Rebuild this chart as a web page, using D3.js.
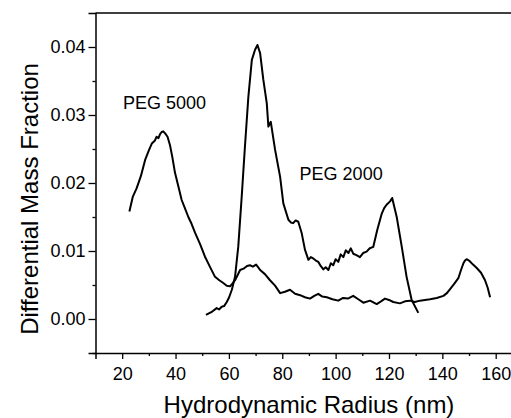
<!DOCTYPE html>
<html>
<head>
<meta charset="utf-8">
<script src="https://cdn.jsdelivr.net/npm/d3@7"></script>
<style>
  html, body { margin: 0; padding: 0; background: #fff; }
  svg { display: block; }
  text { font-family: "Liberation Sans", Arial, sans-serif; fill: #000; }
</style>
</head>
<body>
<svg id="chart" width="511" height="418"></svg>
<script>
// PEG 5000 distribution (radius nm -> differential mass fraction)
const peg5000R = [22.7, 24.0, 25.4, 27.0, 28.6, 30.0, 31.1, 32.2, 32.9, 33.6, 34.2, 34.8, 35.4, 36.1, 37.0, 37.9, 38.8, 39.8, 41.0, 42.3, 43.5, 44.8, 46.0, 47.3, 49.2, 51.0, 53.0, 54.8, 56.4, 57.9, 59.2, 60.4, 61.3, 62.3, 63.2, 64.2, 65.5, 66.8, 67.9, 69.0, 70.2, 71.0, 71.7, 73.5, 75.4, 77.3, 79.2, 81.0, 82.9, 84.8, 86.7, 88.5, 90.4, 92.0, 93.5, 95.0, 96.7, 98.8, 101.0, 102.8, 104.6, 106.6, 108.5, 110.4, 112.9, 115.4, 117.0, 118.5, 120.0, 121.6, 124.1, 126.0, 127.9, 129.7, 131.6, 133.5, 135.4, 137.9, 140.4, 141.7, 142.9, 144.5, 146.0, 147.0, 147.9, 148.5, 149.1, 150.0, 151.5, 152.9, 154.5, 156.0, 157.0, 157.9];
const peg5000F = [0.0158, 0.0180, 0.0192, 0.0210, 0.0234, 0.0248, 0.0258, 0.0262, 0.0268, 0.0266, 0.0272, 0.0275, 0.0276, 0.0273, 0.0268, 0.0256, 0.0238, 0.0215, 0.0196, 0.0175, 0.0163, 0.0150, 0.0140, 0.0127, 0.0110, 0.0092, 0.0076, 0.0062, 0.0057, 0.0053, 0.0049, 0.0048, 0.0052, 0.0057, 0.0064, 0.0072, 0.0074, 0.0078, 0.0079, 0.0077, 0.0080, 0.0076, 0.0072, 0.0066, 0.0057, 0.0049, 0.0038, 0.0040, 0.0043, 0.0037, 0.0035, 0.0032, 0.0030, 0.0034, 0.0037, 0.0033, 0.0032, 0.0029, 0.0027, 0.0031, 0.0030, 0.0034, 0.0029, 0.0024, 0.0027, 0.0022, 0.0026, 0.0030, 0.0028, 0.0025, 0.0023, 0.0026, 0.0027, 0.0025, 0.0027, 0.0028, 0.0029, 0.0031, 0.0034, 0.0038, 0.0044, 0.0052, 0.0060, 0.0072, 0.0082, 0.0086, 0.0088, 0.0086, 0.0080, 0.0075, 0.0068, 0.0057, 0.0046, 0.0032];

// PEG 2000 distribution
const peg2000R = [51.4, 53.4, 55.4, 56.3, 57.3, 58.2, 59.2, 60.1, 61.1, 62.3, 63.5, 64.8, 66.0, 67.3, 68.6, 69.8, 70.7, 71.7, 72.9, 74.2, 74.8, 75.7, 77.3, 79.2, 80.4, 82.3, 83.2, 84.1, 85.0, 86.0, 87.3, 88.5, 89.8, 90.7, 91.6, 92.6, 93.5, 94.4, 95.4, 96.3, 97.3, 98.2, 99.1, 100.0, 101.0, 101.9, 102.9, 103.8, 104.8, 105.7, 106.6, 107.8, 109.1, 110.3, 111.6, 112.8, 114.1, 115.6, 117.3, 118.2, 119.1, 120.4, 121.2, 122.9, 124.8, 126.6, 128.5, 131.0];
const peg2000F = [0.0006, 0.0010, 0.0016, 0.0014, 0.0018, 0.0019, 0.0025, 0.0032, 0.0043, 0.0062, 0.0106, 0.0180, 0.0253, 0.0327, 0.0381, 0.0396, 0.0403, 0.0391, 0.0352, 0.0317, 0.0283, 0.0290, 0.0249, 0.0209, 0.0170, 0.0146, 0.0142, 0.0141, 0.0145, 0.0143, 0.0126, 0.0102, 0.0087, 0.0091, 0.0089, 0.0086, 0.0084, 0.0078, 0.0073, 0.0076, 0.0072, 0.0082, 0.0079, 0.0088, 0.0084, 0.0095, 0.0091, 0.0101, 0.0097, 0.0104, 0.0096, 0.0094, 0.0091, 0.0097, 0.0099, 0.0104, 0.0106, 0.0131, 0.0155, 0.0163, 0.0168, 0.0173, 0.0178, 0.0150, 0.0106, 0.0062, 0.0028, 0.0009];

const xTicks = [20, 40, 60, 80, 100, 120, 140, 160];
const xMinor = [30, 50, 70, 90, 110, 130, 150];
const yTicks = [0.00, 0.01, 0.02, 0.03, 0.04];
const yMinor = [-0.005, 0.005, 0.015, 0.025, 0.035];

const labels = [
  { text: 'PEG 5000', r: 20.3, f: 0.0309 },
  { text: 'PEG 2000', r: 86.5, f: 0.0205 }
];

const svg = d3.select('#chart');
const m = { left: 95.5, top: 13, bottom: 353 };

const x = d3.scaleLinear().domain([10, 166]).range([m.left, m.left + 156 * 2.668]);
const y = d3.scaleLinear().domain([-0.005, 0.045]).range([m.bottom, m.top]);

// top frame line
svg.append('line')
  .attr('x1', m.left).attr('x2', 511)
  .attr('y1', m.top).attr('y2', m.top)
  .attr('stroke', '#000').attr('stroke-width', 1.5);

svg.append('g').attr('transform', `translate(0,${m.bottom})`)
  .call(d3.axisBottom(x).tickValues(xTicks).tickSize(6).tickPadding(8).tickFormat(d3.format('d')));
svg.append('g').attr('transform', `translate(0,${m.bottom})`)
  .call(d3.axisBottom(x).tickValues(xMinor).tickSize(3).tickFormat(''))
  .call(g => g.select('.domain').remove());

svg.append('g').attr('transform', `translate(${m.left},0)`)
  .call(d3.axisLeft(y).tickValues(yTicks).tickSize(7).tickPadding(3).tickFormat(d3.format('.2f')));
svg.append('g').attr('transform', `translate(${m.left},0)`)
  .call(d3.axisLeft(y).tickValues(yMinor).tickSize(3).tickFormat(''))
  .call(g => g.select('.domain').remove());

svg.selectAll('.domain').attr('stroke', '#000').attr('stroke-width', 1.5);
svg.selectAll('.tick line').attr('stroke', '#000').attr('stroke-width', 1.3);
svg.selectAll('.tick text').attr('font-size', 18).style('font-family', '"Liberation Sans", Arial, sans-serif');

// curves
const line = d3.line().x(d => x(d[0])).y(d => y(d[1]));
const series = [
  d3.zip(peg5000R, peg5000F),
  d3.zip(peg2000R, peg2000F)
];
svg.append('g').selectAll('path.curve')
  .data(series)
  .join('path')
  .attr('class', 'curve')
  .attr('d', line)
  .attr('fill', 'none')
  .attr('stroke', '#000')
  .attr('stroke-width', 2)
  .attr('stroke-linejoin', 'round');

svg.append('g').selectAll('text.lbl')
  .data(labels)
  .join('text')
  .attr('class', 'lbl')
  .attr('x', d => x(d.r))
  .attr('y', d => y(d.f))
  .attr('font-size', 18)
  .text(d => d.text);

// axis titles
svg.append('text')
  .attr('x', 309).attr('y', 413)
  .attr('text-anchor', 'middle')
  .attr('font-size', 24)
  .text('Hydrodynamic Radius (nm)');

svg.append('text')
  .attr('transform', 'translate(38,199) rotate(-90)')
  .attr('text-anchor', 'middle')
  .attr('font-size', 24)
  .text('Differential Mass Fraction');
</script>
</body>
</html>
